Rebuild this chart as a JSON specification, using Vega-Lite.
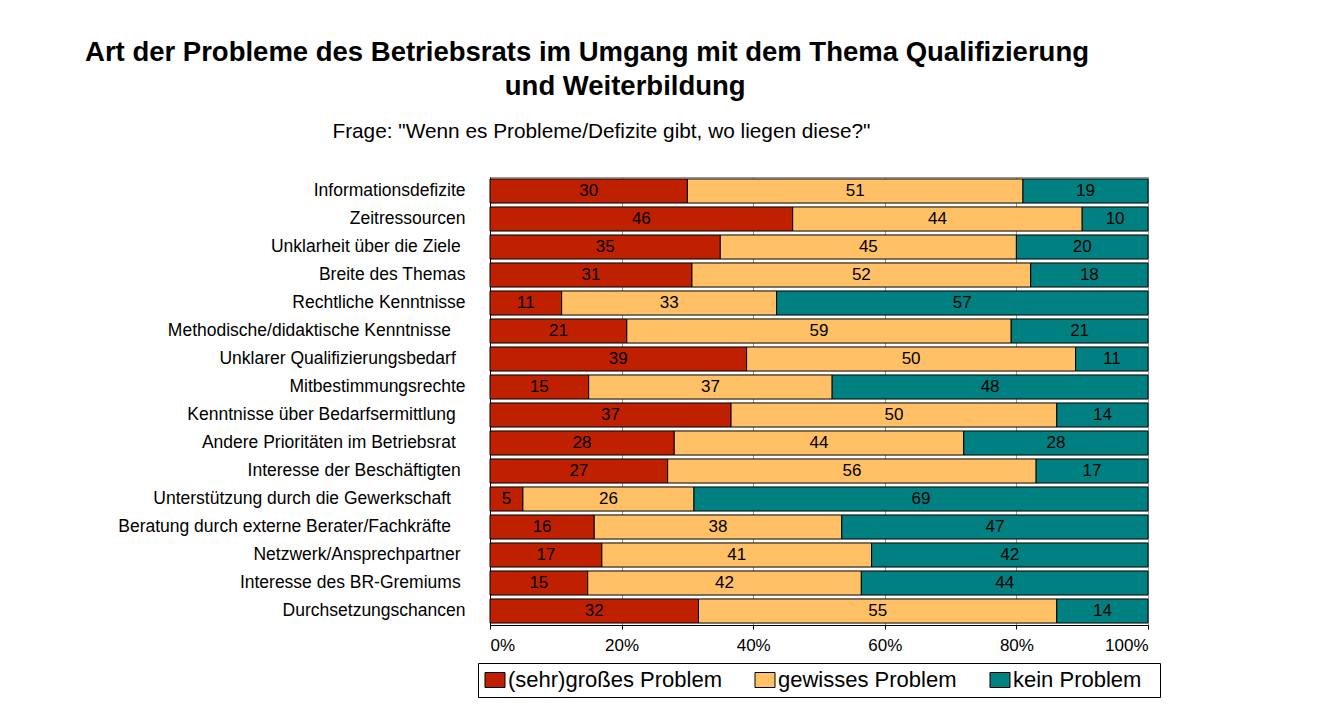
{
  "$schema": "https://vega.github.io/schema/vega-lite/v6.json",
  "autosize": {"type": "none"},
  "width": 658,
  "height": 448,
  "padding": {"left": 490, "top": 177, "right": 174, "bottom": 84},
  "background": "white",
  "title": {
    "text": ["Art der Probleme des Betriebsrats im Umgang mit dem Thema Qualifizierung", "\u200b\u00a0\u00a0\u00a0\u00a0\u00a0\u00a0\u00a0\u00a0\u00a0\u00a0und Weiterbildung"],
    "subtitle": "\u200b\u00a0\u00a0\u00a0\u00a0\u00a0Frage: \"Wenn es Probleme/Defizite gibt, wo liegen diese?\"",
    "anchor": "middle",
    "frame": "group",
    "dx": -232,
    "offset": 35,
    "fontSize": 27.5,
    "fontWeight": "bold",
    "lineHeight": 34,
    "color": "black",
    "subtitleFontSize": 20.8,
    "subtitleColor": "black",
    "subtitlePadding": 22
  },
  "config": {
    "font": "Liberation Sans",
    "view": {"stroke": "#999999", "strokeWidth": 1}
  },
  "data": {
    "values": [
      {"item": "Informationsdefizite", "cat": "(sehr)großes Problem", "k": 1, "v": 30},
      {"item": "Informationsdefizite", "cat": "gewisses Problem", "k": 2, "v": 51},
      {"item": "Informationsdefizite", "cat": "kein Problem", "k": 3, "v": 19},
      {"item": "Zeitressourcen", "cat": "(sehr)großes Problem", "k": 1, "v": 46},
      {"item": "Zeitressourcen", "cat": "gewisses Problem", "k": 2, "v": 44},
      {"item": "Zeitressourcen", "cat": "kein Problem", "k": 3, "v": 10},
      {"item": "Unklarheit über die Ziele\u00a0\u200b", "cat": "(sehr)großes Problem", "k": 1, "v": 35},
      {"item": "Unklarheit über die Ziele\u00a0\u200b", "cat": "gewisses Problem", "k": 2, "v": 45},
      {"item": "Unklarheit über die Ziele\u00a0\u200b", "cat": "kein Problem", "k": 3, "v": 20},
      {"item": "Breite des Themas", "cat": "(sehr)großes Problem", "k": 1, "v": 31},
      {"item": "Breite des Themas", "cat": "gewisses Problem", "k": 2, "v": 52},
      {"item": "Breite des Themas", "cat": "kein Problem", "k": 3, "v": 18},
      {"item": "Rechtliche Kenntnisse", "cat": "(sehr)großes Problem", "k": 1, "v": 11},
      {"item": "Rechtliche Kenntnisse", "cat": "gewisses Problem", "k": 2, "v": 33},
      {"item": "Rechtliche Kenntnisse", "cat": "kein Problem", "k": 3, "v": 57},
      {"item": "Methodische/didaktische Kenntnisse\u00a0\u00a0\u00a0\u200b", "cat": "(sehr)großes Problem", "k": 1, "v": 21},
      {"item": "Methodische/didaktische Kenntnisse\u00a0\u00a0\u00a0\u200b", "cat": "gewisses Problem", "k": 2, "v": 59},
      {"item": "Methodische/didaktische Kenntnisse\u00a0\u00a0\u00a0\u200b", "cat": "kein Problem", "k": 3, "v": 21},
      {"item": "Unklarer Qualifizierungsbedarf\u00a0\u00a0\u200b", "cat": "(sehr)großes Problem", "k": 1, "v": 39},
      {"item": "Unklarer Qualifizierungsbedarf\u00a0\u00a0\u200b", "cat": "gewisses Problem", "k": 2, "v": 50},
      {"item": "Unklarer Qualifizierungsbedarf\u00a0\u00a0\u200b", "cat": "kein Problem", "k": 3, "v": 11},
      {"item": "Mitbestimmungsrechte", "cat": "(sehr)großes Problem", "k": 1, "v": 15},
      {"item": "Mitbestimmungsrechte", "cat": "gewisses Problem", "k": 2, "v": 37},
      {"item": "Mitbestimmungsrechte", "cat": "kein Problem", "k": 3, "v": 48},
      {"item": "Kenntnisse über Bedarfsermittlung\u00a0\u00a0\u200b", "cat": "(sehr)großes Problem", "k": 1, "v": 37},
      {"item": "Kenntnisse über Bedarfsermittlung\u00a0\u00a0\u200b", "cat": "gewisses Problem", "k": 2, "v": 50},
      {"item": "Kenntnisse über Bedarfsermittlung\u00a0\u00a0\u200b", "cat": "kein Problem", "k": 3, "v": 14},
      {"item": "Andere Prioritäten im Betriebsrat\u00a0\u00a0\u200b", "cat": "(sehr)großes Problem", "k": 1, "v": 28},
      {"item": "Andere Prioritäten im Betriebsrat\u00a0\u00a0\u200b", "cat": "gewisses Problem", "k": 2, "v": 44},
      {"item": "Andere Prioritäten im Betriebsrat\u00a0\u00a0\u200b", "cat": "kein Problem", "k": 3, "v": 28},
      {"item": "Interesse der Beschäftigten\u00a0\u200b", "cat": "(sehr)großes Problem", "k": 1, "v": 27},
      {"item": "Interesse der Beschäftigten\u00a0\u200b", "cat": "gewisses Problem", "k": 2, "v": 56},
      {"item": "Interesse der Beschäftigten\u00a0\u200b", "cat": "kein Problem", "k": 3, "v": 17},
      {"item": "Unterstützung durch die Gewerkschaft\u00a0\u00a0\u00a0\u200b", "cat": "(sehr)großes Problem", "k": 1, "v": 5},
      {"item": "Unterstützung durch die Gewerkschaft\u00a0\u00a0\u00a0\u200b", "cat": "gewisses Problem", "k": 2, "v": 26},
      {"item": "Unterstützung durch die Gewerkschaft\u00a0\u00a0\u00a0\u200b", "cat": "kein Problem", "k": 3, "v": 69},
      {"item": "Beratung durch externe Berater/Fachkräfte\u00a0\u00a0\u00a0\u200b", "cat": "(sehr)großes Problem", "k": 1, "v": 16},
      {"item": "Beratung durch externe Berater/Fachkräfte\u00a0\u00a0\u00a0\u200b", "cat": "gewisses Problem", "k": 2, "v": 38},
      {"item": "Beratung durch externe Berater/Fachkräfte\u00a0\u00a0\u00a0\u200b", "cat": "kein Problem", "k": 3, "v": 47},
      {"item": "Netzwerk/Ansprechpartner\u00a0\u200b", "cat": "(sehr)großes Problem", "k": 1, "v": 17},
      {"item": "Netzwerk/Ansprechpartner\u00a0\u200b", "cat": "gewisses Problem", "k": 2, "v": 41},
      {"item": "Netzwerk/Ansprechpartner\u00a0\u200b", "cat": "kein Problem", "k": 3, "v": 42},
      {"item": "Interesse des BR-Gremiums\u00a0\u200b", "cat": "(sehr)großes Problem", "k": 1, "v": 15},
      {"item": "Interesse des BR-Gremiums\u00a0\u200b", "cat": "gewisses Problem", "k": 2, "v": 42},
      {"item": "Interesse des BR-Gremiums\u00a0\u200b", "cat": "kein Problem", "k": 3, "v": 44},
      {"item": "Durchsetzungschancen", "cat": "(sehr)großes Problem", "k": 1, "v": 32},
      {"item": "Durchsetzungschancen", "cat": "gewisses Problem", "k": 2, "v": 55},
      {"item": "Durchsetzungschancen", "cat": "kein Problem", "k": 3, "v": 14}
    ]
  },
  "encoding": {
    "y": {
      "field": "item",
      "type": "nominal",
      "sort": null,
      "scale": {"paddingInner": 0.14, "paddingOuter": 0.07},
      "axis": {
        "title": null,
        "ticks": false,
        "domain": true,
        "domainColor": "black",
        "labelFontSize": 17.5,
        "labelColor": "black",
        "labelPadding": 25,
        "labelLimit": 500
      }
    },
    "order": {"field": "k", "type": "quantitative"}
  },
  "layer": [
    {
      "mark": {"type": "bar", "stroke": "black", "strokeWidth": 1},
      "encoding": {
        "x": {
          "field": "v",
          "type": "quantitative",
          "stack": "normalize",
          "scale": {"domain": [0, 1]},
          "axis": {
            "title": null,
            "format": ".0%",
            "values": [0, 0.2, 0.4, 0.6, 0.8, 1],
            "grid": true,
            "gridColor": "#999999",
            "domainColor": "black",
            "tickColor": "black",
            "tickSize": 4,
            "labelPadding": 8,
            "labelFontSize": 17,
            "labelColor": "black"
          }
        },
        "color": {
          "field": "cat",
          "type": "nominal",
          "sort": null,
          "scale": {
            "domain": ["(sehr)großes Problem", "gewisses Problem", "kein Problem"],
            "range": ["#BF2000", "#FFC066", "#008080"]
          },
          "legend": {
            "title": null,
            "orient": "none",
            "legendX": -12,
            "legendY": 486,
            "direction": "horizontal",
            "strokeColor": "black",
            "fillColor": "white",
            "padding": 6,
            "labelFontSize": 22,
            "labelColor": "black",
            "labelOffset": 2,
            "labelLimit": 400,
            "labelExpr": "datum.label == 'kein Problem' ? datum.label + '\u00a0\u00a0\u200b' : datum.label",
            "columnPadding": 31,
            "symbolType": "M-1,-0.75H1V0.75H-1Z",
            "symbolSize": 400,
            "symbolStrokeColor": "black",
            "symbolStrokeWidth": 1,
            "symbolOpacity": 1
          }
        }
      }
    },
    {
      "mark": {"type": "text", "fontSize": 17, "color": "black", "align": "center", "baseline": "middle"},
      "encoding": {
        "x": {"field": "v", "type": "quantitative", "stack": "normalize", "bandPosition": 0.5},
        "text": {"field": "v", "type": "quantitative"}
      }
    }
  ]
}
